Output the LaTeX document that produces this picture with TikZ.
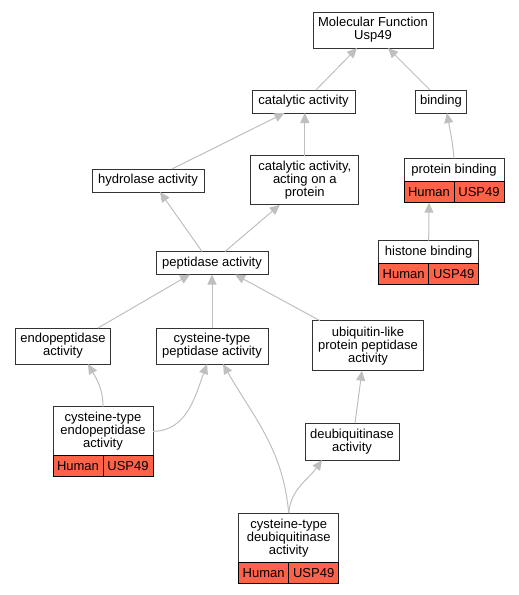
\documentclass[tikz,border=0pt]{standalone}
\usepackage{fontspec}
\setmainfont{Liberation Sans}
\usetikzlibrary{arrows.meta}
\definecolor{tomato}{RGB}{255,99,71}
\tikzset{
  term/.style={draw=black!80, line width=1pt, fill=white, align=center, inner sep=0pt, outer sep=0pt, font=\fontsize{13}{13}\selectfont},
  gene/.style={draw=black, line width=1pt, fill=tomato, minimum width=50, minimum height=21, inner sep=0pt, outer sep=0pt, font=\fontsize{13}{13}\selectfont},
  isa/.style={draw=gray!50, line width=1pt, -{Triangle[length=10pt,width=9pt]}}
}

\begin{document}
\begin{tikzpicture}[x=1pt,y=1pt]
\useasboundingbox (0,0) rectangle (519,-595);

 % terms
 \node[term, minimum width=120, minimum height=36] (mf) at (373,-30) {Molecular Function\\Usp49};
 \node[term, minimum width=103, minimum height=23] (ca) at (303.5,-101.5) {catalytic activity};
 \node[term, minimum width=51, minimum height=23] (bd) at (441,-101.5) {binding};
 \node[term, minimum width=112, minimum height=23] (hy) at (148,-180.5) {hydrolase activity};
 \node[term, minimum width=108, minimum height=49] (cap) at (304.8,-180.3) {catalytic activity,\\acting on a\\protein};
 \node[term, minimum width=100, minimum height=23.4] (pb) at (454,-170) {protein binding};
 \node[term, minimum width=100, minimum height=22.6] (hb) at (428.7,-252) {histone binding};
 \node[term, minimum width=112, minimum height=23] (pep) at (212,-263) {peptidase activity};
 \node[term, minimum width=95, minimum height=36] (ep) at (63,-346) {endopeptidase\\activity};
 \node[term, minimum width=112, minimum height=36] (cp) at (212,-346) {cysteine-type\\peptidase activity};
 \node[term, minimum width=110.6, minimum height=50] (ul) at (368,-345.7) {ubiquitin-like\\protein peptidase\\activity};
 \node[term, minimum width=100, minimum height=49.3] (cep) at (103,-431.3) {cysteine-type\\endopeptidase\\activity};
 \node[term, minimum width=94, minimum height=37] (dub) at (352,-441.5) {deubiquitinase\\activity};
 \node[term, minimum width=100, minimum height=49.7] (cdu) at (288.7,-538) {cysteine-type\\deubiquitinase\\activity};

 % annotations
 \foreach \n in {pb,hb,cep,cdu} {
   \node[gene, anchor=north west] (\n-h) at (\n.south west) {Human};
   \node[gene, anchor=north west] (\n-u) at (\n-h.north east) {USP49};
 }

 % is_a edges
 \draw[isa] ([xshift=12.5]ca.north) -- ([xshift=-16]mf.south);
 \draw[isa] ([xshift=-11]bd.north) -- ([xshift=15]mf.south);
 \draw[isa] ([xshift=24]hy.north) -- ([xshift=-19]ca.south);
 \draw[isa] (cap.north) -- (cap.north |- ca.south);
 \draw[isa] (pb.north) to[out=95,in=-80] ([xshift=6]bd.south);
 \draw[isa] (hb.north) -- (pb-h.south);
 \draw[isa] ([xshift=-10]pep.north) -- ([xshift=12]hy.south);
 \draw[isa] ([xshift=13]pep.north) -- ([xshift=-25]cap.south);
 \draw[isa] ([xshift=35]ep.north) -- ([xshift=-22]pep.south);
 \draw[isa] (cp.north) -- (pep.south);
 \draw[isa] ([xshift=-48]ul.north) -- ([xshift=23]pep.south);
 \draw[isa] (cep.north) to[out=90,in=-60] ([xshift=25]ep.south);
 \draw[isa] (cep.east) to[out=0,in=-110] ([xshift=-5]cp.south);
 \draw[isa] (cdu.north) to[out=95,in=-60] ([xshift=11]cp.south);
 \draw[isa] (cdu.north) to[out=85,in=-125] ([xshift=-30]dub.south);
 \draw[isa] ([xshift=3]dub.north) -- ([xshift=-6]ul.south);

\end{tikzpicture}
\end{document}
